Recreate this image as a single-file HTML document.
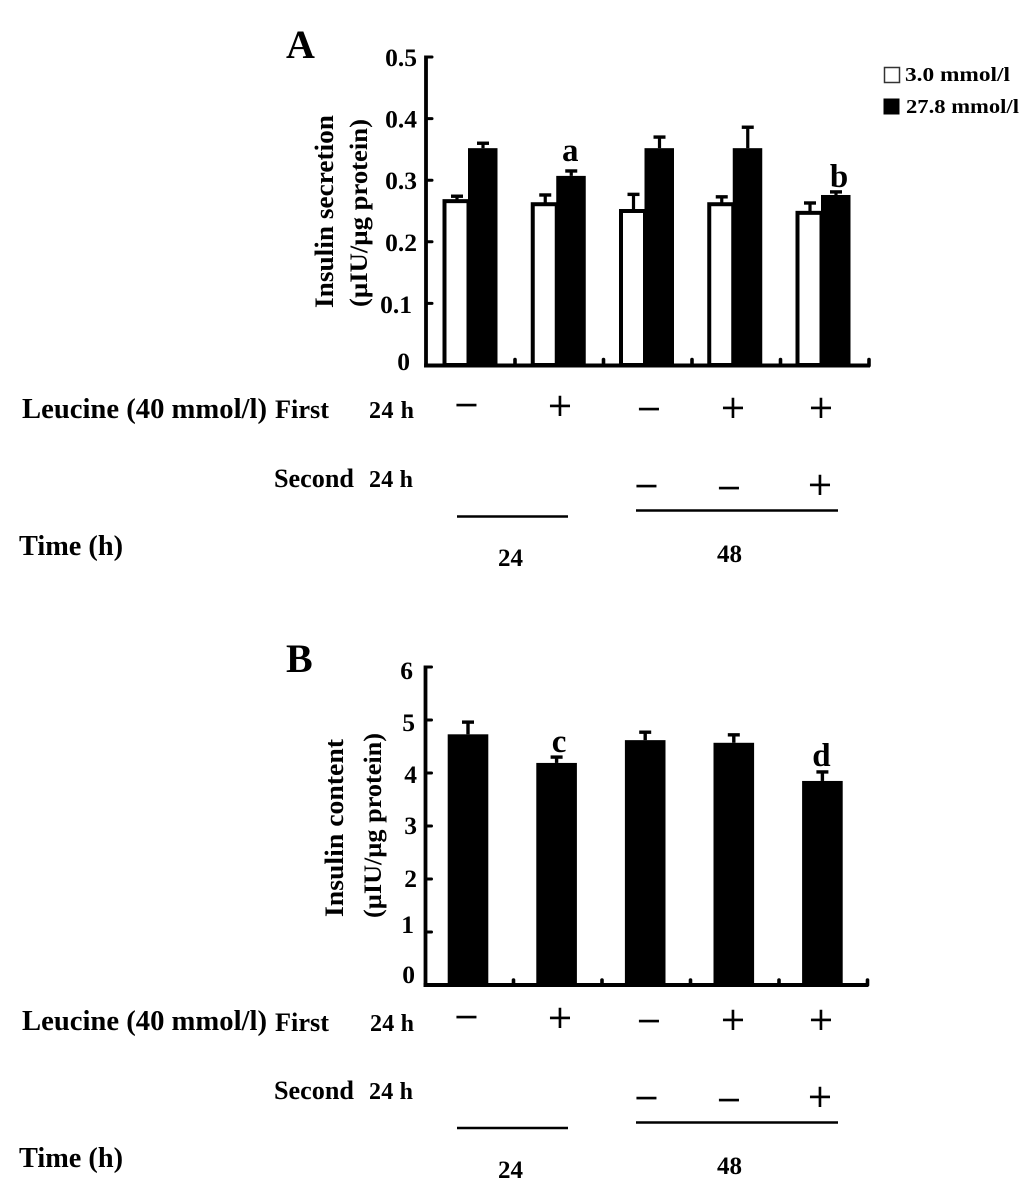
<!DOCTYPE html>
<html lang="en">
<head>
<meta charset="utf-8">
<title>Insulin secretion and content</title>
<style>
html,body{margin:0;padding:0;background:#fff;}
svg{display:block;}
text{font-family:"Liberation Serif",serif;font-weight:bold;fill:#000;}
text.sign{font-weight:normal;font-size:42px;text-anchor:middle;stroke:#000;stroke-width:0.5px;}
</style>
</head>
<body>
<svg id="fig" xmlns="http://www.w3.org/2000/svg" width="1033" height="1189" viewBox="0 0 1033 1189">
  <rect x="0" y="0" width="1033" height="1189" fill="#fff"/>

  <text x="286" y="58" font-size="40">A</text>
  <text x="286" y="672" font-size="40">B</text>

  <g>
    <rect x="884.5" y="67.5" width="15" height="15" fill="#fff" stroke="#333" stroke-width="1.5"/>
    <text x="905" y="81" font-size="20" textLength="105" lengthAdjust="spacingAndGlyphs">3.0 mmol/l</text>
    <rect x="883.5" y="98.5" width="16" height="16" fill="#000"/>
    <text x="906" y="113" font-size="20" textLength="113" lengthAdjust="spacingAndGlyphs">27.8 mmol/l</text>
  </g>

  <text transform="translate(333,308) rotate(-90)" font-size="26" textLength="193" lengthAdjust="spacingAndGlyphs">Insulin secretion</text>
  <text transform="translate(367,307) rotate(-90)" font-size="25" textLength="188" lengthAdjust="spacingAndGlyphs">(µIU/µg protein)</text>
  <text transform="translate(343,917) rotate(-90)" font-size="26" textLength="178" lengthAdjust="spacingAndGlyphs">Insulin content</text>
  <text transform="translate(381,918) rotate(-90)" font-size="25" textLength="185" lengthAdjust="spacingAndGlyphs">(µIU/µg protein)</text>

  <g>
    <text x="22" y="418" font-size="28.5" textLength="245" lengthAdjust="spacingAndGlyphs">Leucine (40 mmol/l)</text>
    <text x="275" y="418" font-size="26" textLength="54" lengthAdjust="spacingAndGlyphs">First</text>
    <text x="369" y="418" font-size="24" textLength="45" lengthAdjust="spacing">24 h</text>
    <text x="274" y="487" font-size="26" textLength="80" lengthAdjust="spacingAndGlyphs">Second</text>
    <text x="369" y="487" font-size="24" textLength="44" lengthAdjust="spacing">24 h</text>
    <text x="19" y="555" font-size="28" textLength="104" lengthAdjust="spacingAndGlyphs">Time (h)</text>
    <text x="498" y="566" font-size="25">24</text>
    <text x="717" y="562" font-size="25">48</text>
    <line x1="457" y1="516.5" x2="568" y2="516.5" stroke="#000" stroke-width="2.4"/>
    <line x1="636" y1="510.5" x2="838" y2="510.5" stroke="#000" stroke-width="2.4"/>
    <text class="sign" x="466.5" y="419">−</text>
    <text class="sign" x="560" y="420">+</text>
    <text class="sign" x="649" y="423">−</text>
    <text class="sign" x="733" y="422">+</text>
    <text class="sign" x="821" y="422">+</text>
    <text class="sign" x="646.5" y="500">−</text>
    <text class="sign" x="729" y="502">−</text>
    <text class="sign" x="820" y="499">+</text>
  </g>

  <g>
    <text x="22" y="1030" font-size="28.5" textLength="245" lengthAdjust="spacingAndGlyphs">Leucine (40 mmol/l)</text>
    <text x="275" y="1031" font-size="26" textLength="54" lengthAdjust="spacingAndGlyphs">First</text>
    <text x="370" y="1031" font-size="24" textLength="44" lengthAdjust="spacing">24 h</text>
    <text x="274" y="1099" font-size="26" textLength="80" lengthAdjust="spacingAndGlyphs">Second</text>
    <text x="369" y="1099" font-size="24" textLength="44" lengthAdjust="spacing">24 h</text>
    <text x="19" y="1167" font-size="28" textLength="104" lengthAdjust="spacingAndGlyphs">Time (h)</text>
    <text x="498" y="1178" font-size="25">24</text>
    <text x="717" y="1174" font-size="25">48</text>
    <line x1="457" y1="1128" x2="568" y2="1128" stroke="#000" stroke-width="2.4"/>
    <line x1="636" y1="1122.5" x2="838" y2="1122.5" stroke="#000" stroke-width="2.4"/>
    <text class="sign" x="466.5" y="1031">−</text>
    <text class="sign" x="560" y="1032">+</text>
    <text class="sign" x="649" y="1035">−</text>
    <text class="sign" x="733" y="1034">+</text>
    <text class="sign" x="821" y="1034">+</text>
    <text class="sign" x="646.5" y="1112">−</text>
    <text class="sign" x="729" y="1114">−</text>
    <text class="sign" x="820" y="1111">+</text>
  </g>

  <g id="chart-a"></g>
  <g id="chart-b"></g>
</svg>

<script>
// Panel A data
const groupsA = ["g1", "g2", "g3", "g4", "g5"];
const lowGlucose = [0.266, 0.261, 0.25, 0.261, 0.247];
const lowGlucoseErr = [0.008, 0.015, 0.027, 0.012, 0.016];
const highGlucose = [0.352, 0.307, 0.352, 0.352, 0.276];
const highGlucoseErr = [0.008, 0.008, 0.018, 0.034, 0.005];
const ticksA = [0, 0.1, 0.2, 0.3, 0.4, 0.5];
const tickLabelsA = ["0", "0.1", "0.2", "0.3", "0.4", "0.5"];
const lettersA = ["", "a", "", "", "b"];

// Panel B data
const groupsB = ["g1", "g2", "g3", "g4", "g5"];
const content = [4.73, 4.19, 4.62, 4.57, 3.85];
const contentErr = [0.23, 0.11, 0.15, 0.15, 0.17];
const ticksB = [0, 1, 2, 3, 4, 5, 6];
const tickLabelsB = ["0", "1", "2", "3", "4", "5", "6"];
const lettersB = ["", "c", "", "", "d"];

const NS = "http://www.w3.org/2000/svg";
function add(parent, tag, attrs, txt) {
  const el = document.createElementNS(NS, tag);
  for (const k in attrs) el.setAttribute(k, attrs[k]);
  if (txt !== undefined) el.textContent = txt;
  parent.appendChild(el);
  return el;
}

// axis functions
const yA = v => 365 - 616 * v;
const xA = i => 468 + 88.25 * i;
const yB = v => 985 - 53 * v;
const xB = i => 468 + 88.6 * i;

// hand-placed label nudges of the original artwork, relative to each tick
function labelPlacementA(t) {
  if (t === 0) return {end: 410, dy: 5};
  if (t === 0.1) return {end: 412, dy: 9.5};
  return {end: 417, dy: 9};
}
function labelPlacementB(t) {
  if (t === 0) return {end: 415, dy: -2};
  if (t === 1) return {end: 414, dy: 1};
  if (t === 6) return {end: 413, dy: 12};
  if (t === 5) return {end: 415, dy: 11};
  if (t === 4) return {end: 417, dy: 10};
  return {end: 417, dy: 8};
}

function drawAxes(g, axisX, x2, y0, ticks, labels, yFn, placement, xStart, xStep, tickTop) {
  const yTop = yFn(ticks[ticks.length - 1]);
  const ya = add(g, "line", {x1: axisX, y1: yTop - 1.5, x2: axisX, y2: y0 + 2, stroke: "#000", "stroke-width": 3.8});
  
  
  const xa = add(g, "line", {x1: axisX - 1.9, y1: y0, x2: x2, y2: y0, stroke: "#000", "stroke-width": 4});
  
  
  ticks.forEach((t, i) => {
    const y = yFn(t);
    if (t !== 0) {
      const tk = add(g, "line", {x1: axisX, y1: y, x2: axisX + 6, y2: y, stroke: "#000", "stroke-width": 3, "stroke-linecap": "round"});
      
      
    }
    const p = placement(t);
    const lab = add(g, "text", {x: p.end, y: y + p.dy, "font-size": 25.5, "text-anchor": "end"}, labels[i]);
    
    
  });
  for (let k = 0; k < 5; k++) {
    const x = xStart + xStep * k;
    const tk = add(g, "line", {x1: x, y1: y0, x2: x, y2: y0 - tickTop, stroke: "#000", "stroke-width": 3.6, "stroke-linecap": "round"});
    
    
  }
}

function drawError(g, cx, yBase, yTop, capW, sw) {
  const s = add(g, "line", {x1: cx, y1: yBase, x2: cx, y2: yTop, stroke: "#000", "stroke-width": sw});
  
  
  const c = add(g, "line", {x1: cx - capW / 2, y1: yTop, x2: cx + capW / 2, y2: yTop, stroke: "#000", "stroke-width": 3.4});
  
  
}

const gA = document.getElementById("chart-a");
const gB = document.getElementById("chart-b");

drawAxes(gA, 426, 870, 365.5, ticksA, tickLabelsA, yA, labelPlacementA, 515, 88.5, 6);
drawAxes(gB, 425.5, 868, 985, ticksB, tickLabelsB, yB, labelPlacementB, 513.5, 88.5, 5);

// Panel A bars
groupsA.forEach((name, i) => {
  const c = xA(i);
  const wTop = yA(lowGlucose[i]);
  const wErrTop = yA(lowGlucose[i] + lowGlucoseErr[i]);
  drawError(gA, c - 11, wTop, wErrTop, 12, 3.2);
  const w = add(gA, "rect", {x: c - 23.5, y: wTop, width: 24, height: yA(0) - wTop, fill: "#fff", stroke: "#000", "stroke-width": 4});
  
  

  const bTop = yA(highGlucose[i]);
  const bErrTop = yA(highGlucose[i] + highGlucoseErr[i]);
  drawError(gA, c + 15, bTop, bErrTop, 12, 3.2);
  const b = add(gA, "rect", {x: c, y: bTop, width: 29.5, height: yA(0) - bTop, fill: "#000"});
  
  

  if (lettersA[i]) {
    const isA = lettersA[i] === "a";
    const t = add(gA, "text", {x: c + (isA ? 14 : 18), y: bErrTop - (isA ? 10 : 5), "font-size": 33, "text-anchor": "middle"}, lettersA[i]);
    
    
  }
});

// Panel B bars
groupsB.forEach((name, i) => {
  const c = xB(i);
  const top = yB(content[i]);
  const errTop = yB(content[i] + contentErr[i]);
  drawError(gB, c, top, errTop, 12, 3.4);
  const b = add(gB, "rect", {x: c - 20.3, y: top, width: 40.6, height: yB(0) - top, fill: "#000"});
  
  

  if (lettersB[i]) {
    const isC = lettersB[i] === "c";
    const t = add(gB, "text", {x: c + (isC ? 2.5 : -1), y: errTop - (isC ? 5 : 6), "font-size": 33, "text-anchor": "middle"}, lettersB[i]);
    
    
  }
});
</script>
</body>
</html>
